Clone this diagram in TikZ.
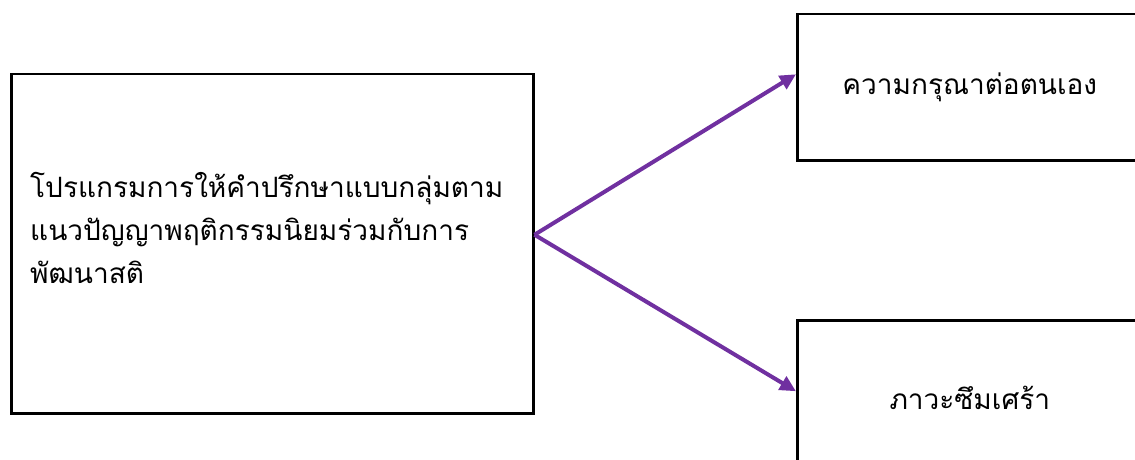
\documentclass[tikz,border=0pt]{standalone}
\usepackage{fontspec}
\newfontfamily\thaifont[Script=Thai]{Loma}
\usetikzlibrary{arrows.meta}
\definecolor{arrowpurple}{HTML}{7030A0}
\begin{document}
\begin{tikzpicture}[x=1pt,y=-1pt,
  box/.style={draw=black, line width=2.5pt, fill=white, inner sep=0pt},
  label/.style={font=\thaifont\fontsize{28}{43}\selectfont, inner sep=0pt},
  arr/.style={draw=arrowpurple, line width=4pt, -{Triangle[length=16pt,width=15pt]}}]
\useasboundingbox (0,0) rectangle (1135,460);
\clip (0,0) rectangle (1135,460);
\node[box, minimum width=522pt, minimum height=339pt, anchor=north west] (prog) at (10,73) {};
\node[label, anchor=west, align=left, text width=500pt] (progtext) at (30,228)
  {โปรแกรมการให้คำปรึกษาแบบกลุ่มตาม\\แนวปัญญาพฤติกรรมนิยมร่วมกับการ\\พัฒนาสติ};
\node[box, label, minimum width=345pt, minimum height=146pt, anchor=north west] (self) at (796,13) {ความกรุณาต่อตนเอง};
\node[box, label, minimum width=345pt, minimum height=156pt, anchor=north west] (dep) at (796,319) {ภาวะซึมเศร้า};
\draw[arr] ([yshift=9pt]prog.east) -- ([yshift=13pt]self.west);
\draw[arr] ([yshift=9pt]prog.east) -- ([yshift=7pt]dep.west);
\end{tikzpicture}
\end{document}
